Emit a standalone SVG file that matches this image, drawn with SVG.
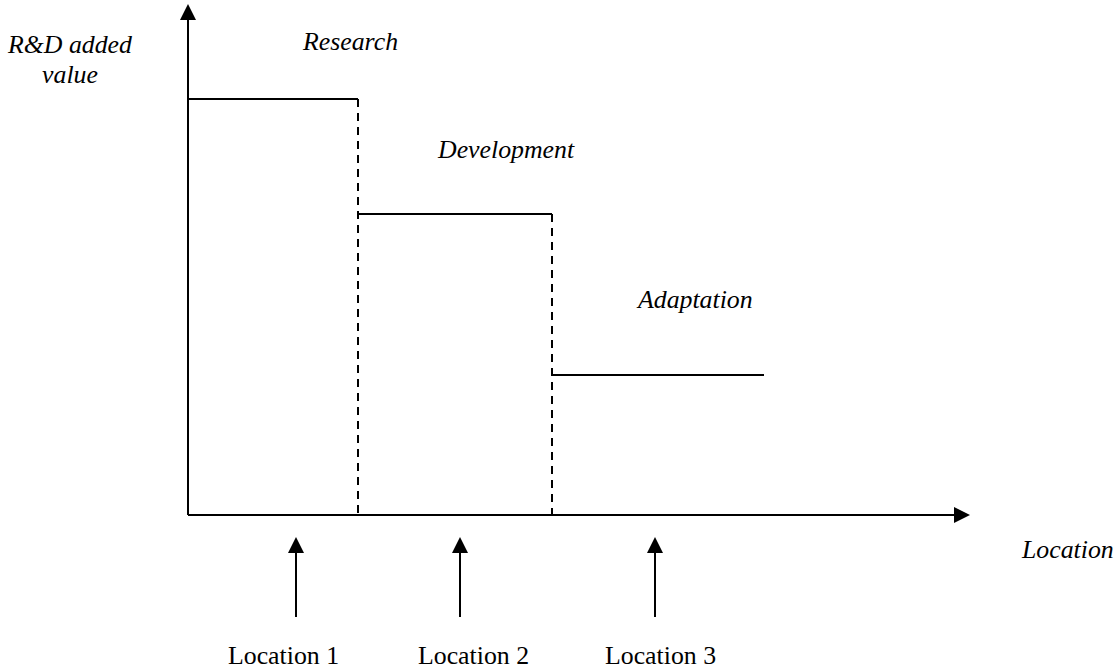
<svg xmlns="http://www.w3.org/2000/svg" width="1116" height="668" viewBox="0 0 1116 668">
<style>
text{font-family:'Liberation Serif',Tinos,'Times New Roman',Times,serif;font-size:25.8px;fill:#000}
.i{font-style:italic}
.s{stroke:#000;stroke-width:2;fill:none}
.d{stroke:#000;stroke-width:2;fill:none;stroke-dasharray:8,6}
</style>
<defs>
<marker id="ah" markerWidth="16" markerHeight="16" refX="0" refY="8" orient="auto" markerUnits="userSpaceOnUse">
<path d="M0,0 L16,8 L0,16 Z" fill="#000"/>
</marker>
</defs>
<rect width="1116" height="668" fill="#fff"/>
<g id="axes">
<line class="s" x1="188" y1="515" x2="188" y2="20" marker-end="url(#ah)"/>
<line class="s" x1="188" y1="515" x2="954" y2="515" marker-end="url(#ah)"/>
</g>
<g id="research">
<line class="s" x1="188" y1="99" x2="358" y2="99"/>
<line class="d" x1="358" y1="99" x2="358" y2="515"/>
<text class="i" x="303" y="50">Research</text>
</g>
<g id="development">
<line class="s" x1="358" y1="214" x2="552" y2="214"/>
<line class="d" x1="552" y1="214" x2="552" y2="515"/>
<text class="i" x="438" y="158">Development</text>
</g>
<g id="adaptation">
<line class="s" x1="552" y1="375" x2="764" y2="375"/>
<text class="i" x="638" y="308">Adaptation</text>
</g>
<g id="ylabel">
<text class="i" x="8" y="53">R&amp;D added</text>
<text class="i" x="70" y="83" text-anchor="middle">value</text>
</g>
<g id="xlabel">
<text class="i" x="1022" y="558">Location</text>
</g>
<g id="connectors">
<line class="s" x1="296" y1="617" x2="296" y2="553" marker-end="url(#ah)"/>
<line class="s" x1="460" y1="617" x2="460" y2="553" marker-end="url(#ah)"/>
<line class="s" x1="655" y1="617" x2="655" y2="553" marker-end="url(#ah)"/>
</g>
<g id="loc1"><text x="228" y="664">Location 1</text></g>
<g id="loc2"><text x="418" y="664">Location 2</text></g>
<g id="loc3"><text x="605" y="664">Location 3</text></g>
</svg>
